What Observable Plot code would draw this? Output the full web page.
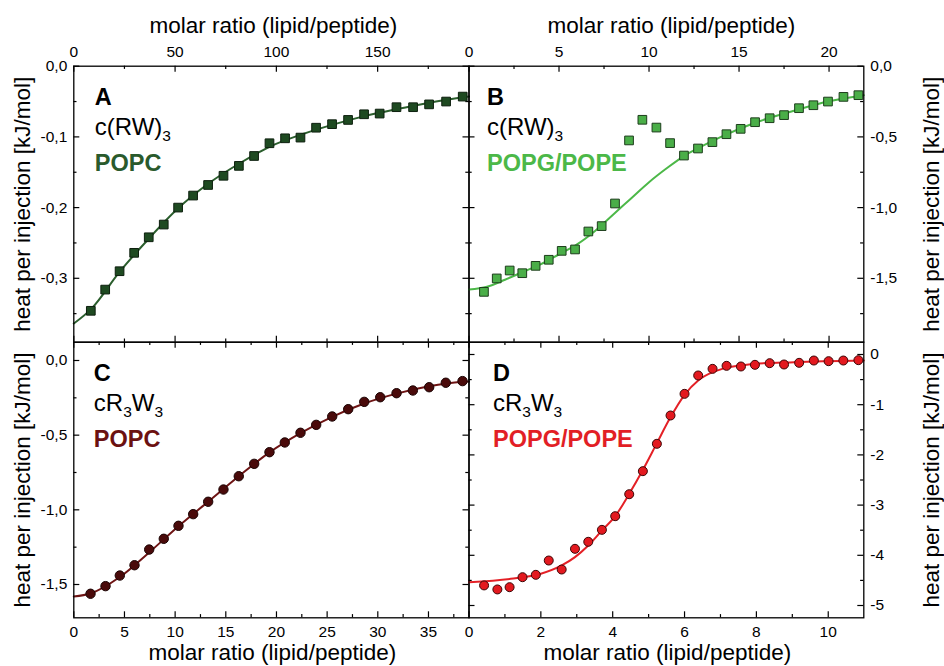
<!DOCTYPE html>
<html><head><meta charset="utf-8">
<script src="https://cdn.jsdelivr.net/npm/d3@7"></script>
<script src="https://cdn.jsdelivr.net/npm/@observablehq/plot@0.6"></script>
<style>
html,body{margin:0;padding:0;background:#fff;}
#chart{position:relative;width:944px;height:666px;overflow:hidden;background:#fff;}
#chart svg{position:absolute;left:0;top:0;}
</style></head><body><div id="chart"></div>
<script>
// ---------- Data ----------
// Panel A: c(RW)3 / POPC
const aX = [8.4, 15.5, 22.6, 29.8, 37.0, 44.4, 51.5, 58.9, 66.3, 73.9, 81.5, 89.0, 96.6, 104.3, 111.9, 119.6, 127.5, 135.4, 143.3, 151.0, 159.3, 167.5, 175.4, 183.8, 192.0];
const aY = [-0.346, -0.316, -0.290, -0.264, -0.242, -0.224, -0.200, -0.183, -0.168, -0.155, -0.141, -0.127, -0.109, -0.102, -0.101, -0.087, -0.082, -0.076, -0.068, -0.067, -0.058, -0.058, -0.054, -0.050, -0.043];
const aFitX = [0, 8.4, 22.6, 37, 51.5, 66, 81.5, 96.6, 112, 127.5, 143, 159, 175, 195.1];
const aFitY = [-0.364, -0.344, -0.291, -0.244, -0.201, -0.167, -0.138, -0.114, -0.097, -0.083, -0.071, -0.061, -0.052, -0.043];
// Panel B: c(RW)3 / POPG/POPE
const bX = [0.83, 1.54, 2.26, 2.96, 3.70, 4.43, 5.15, 5.89, 6.63, 7.37, 8.11, 8.89, 9.63, 10.41, 11.17, 11.94, 12.72, 13.52, 14.30, 15.09, 15.89, 16.70, 17.50, 18.33, 19.13, 19.94, 20.80, 21.63];
const bY = [-1.596, -1.501, -1.445, -1.464, -1.412, -1.369, -1.306, -1.296, -1.169, -1.131, -0.971, -0.525, -0.379, -0.434, -0.544, -0.632, -0.582, -0.537, -0.481, -0.443, -0.396, -0.368, -0.346, -0.297, -0.276, -0.250, -0.217, -0.205];
const bFitX = [0, 1, 2, 3, 4, 5, 6, 7, 8, 9, 10, 11, 12, 13, 14, 16, 18, 20, 21.93];
const bFitY = [-1.58, -1.56, -1.51, -1.455, -1.40, -1.33, -1.26, -1.165, -1.05, -0.935, -0.82, -0.72, -0.63, -0.562, -0.50, -0.395, -0.317, -0.248, -0.205];
// Panel C: cR3W3 / POPC
const cX = [1.65, 3.13, 4.54, 5.99, 7.44, 8.88, 10.33, 11.78, 13.26, 14.77, 16.28, 17.80, 19.31, 20.82, 22.37, 23.92, 25.50, 27.08, 28.66, 30.24, 31.85, 33.46, 35.07, 36.71, 38.36];
const cY = [-1.562, -1.511, -1.440, -1.371, -1.266, -1.194, -1.107, -1.029, -0.946, -0.864, -0.775, -0.692, -0.614, -0.549, -0.484, -0.431, -0.375, -0.326, -0.277, -0.246, -0.219, -0.201, -0.179, -0.149, -0.138];
const cFitX = [0, 1.65, 4.54, 7.44, 10.33, 13.26, 16.28, 19.31, 22.37, 25.5, 28.66, 31.85, 35.07, 38.36, 39];
const cFitY = [-1.58, -1.56, -1.45, -1.285, -1.11, -0.945, -0.775, -0.615, -0.486, -0.377, -0.288, -0.222, -0.173, -0.143, -0.140];
// Panel D: cR3W3 / POPG/POPE
const dX = [0.42, 0.79, 1.13, 1.49, 1.86, 2.22, 2.58, 2.95, 3.32, 3.70, 4.07, 4.46, 4.84, 5.23, 5.61, 6.00, 6.38, 6.78, 7.17, 7.57, 7.96, 8.37, 8.77, 9.19, 9.60, 10.01, 10.42, 10.84];
const dY = [-4.60, -4.68, -4.635, -4.436, -4.389, -4.104, -4.283, -3.871, -3.731, -3.493, -3.221, -2.783, -2.324, -1.779, -1.215, -0.784, -0.418, -0.286, -0.226, -0.239, -0.206, -0.173, -0.199, -0.166, -0.120, -0.133, -0.120, -0.113];
const dFitX = [0, 1.16, 2.0, 2.58, 2.95, 3.32, 3.70, 4.07, 4.46, 4.83, 5.22, 5.60, 6.0, 6.38, 6.78, 7.17, 7.57, 7.96, 9.05, 10.99];
const dFitY = [-4.535, -4.469, -4.369, -4.203, -4.037, -3.805, -3.506, -3.221, -2.776, -2.311, -1.780, -1.262, -0.803, -0.518, -0.352, -0.266, -0.219, -0.186, -0.153, -0.120];

// Tick values
const aXTicks = [0, 50, 100, 150], aXMinor = [25, 75, 125, 175];
const aYTicks = [0, -0.1, -0.2, -0.3], aYMinor = [-0.05, -0.15, -0.25, -0.35];
const bXTicks = [0, 5, 10, 15, 20], bXMinor = [2.5, 7.5, 12.5, 17.5];
const bYTicks = [0, -0.5, -1.0, -1.5], bYMinor = [-0.25, -0.75, -1.25, -1.75];
const cXTicks = [0, 5, 10, 15, 20, 25, 30, 35], cXMinor = [2.5, 7.5, 12.5, 17.5, 22.5, 27.5, 32.5, 37.5];
const cYTicks = [0, -0.5, -1.0, -1.5], cYMinor = [-0.25, -0.75, -1.25];
const dXTicks = [0, 2, 4, 6, 8, 10], dXMinor = [1, 3, 5, 7, 9];
const dYTicks = [0, -1, -2, -3, -4, -5], dYMinor = [-0.5, -1.5, -2.5, -3.5, -4.5];

const xTitle = "molar ratio (lipid/peptide)";
const yTitle = "heat per injection [kJ/mol]";

// ---------- Layout ----------
const W = 944, H = 666;
const FONT = "'Liberation Sans', Arial, Helvetica, sans-serif";
const X0 = 73.3, XM = 468.5, X1 = 863.3, Y0 = 65.7, YM = 341.7, Y1 = 617.3;
const TICK_FS = 15.5, TITLE_FS = 22.5, PEP_FS = 24, LIP_FS = 23.5, SUB_FS = 15.5;

const ctx = document.createElement("canvas").getContext("2d");
function tw(s, size, weight) { ctx.font = `${weight || "normal"} ${size}px ${FONT}`; return ctx.measureText(s).width; }

const comma1 = d => d3.format(".1f")(d).replace(".", ",").replace("\u2212", "-");
const intFmt = d => String(d).replace("\u2212", "-");

function toRows(xs, ys) { return xs.map((x, i) => ({x, y: ys[i]})); }

function panel(p) {
  const fw = p.x1 - p.x0, fh = p.y1 - p.y0;
  const MAJ = 6, MIN = 3.2, SW = 1.2;
  const marks = [];
  // inward ticks on all four sides
  for (const [vals, len] of [[p.xTicks, MAJ], [p.xMinor, MIN]]) {
    marks.push(Plot.tickX(vals, {x: d => d, insetBottom: fh - len, stroke: "#000", strokeWidth: SW}));
    marks.push(Plot.tickX(vals, {x: d => d, insetTop: fh - len, stroke: "#000", strokeWidth: SW}));
  }
  for (const [vals, len] of [[p.yTicks, MAJ], [p.yMinor, MIN]]) {
    marks.push(Plot.tickY(vals, {y: d => d, insetRight: fw - len, stroke: "#000", strokeWidth: SW}));
    marks.push(Plot.tickY(vals, {y: d => d, insetLeft: fw - len, stroke: "#000", strokeWidth: SW}));
  }
  // tick labels
  marks.push(Plot.axisX({ticks: p.xTicks, anchor: p.xSide, tickSize: 0, tickPadding: p.xSide === "top" ? 9.5 : 8, tickFormat: intFmt, fontSize: TICK_FS, label: null}));
  marks.push(Plot.axisY({ticks: p.yTicks, anchor: p.ySide, tickSize: 0, tickPadding: 6.5, tickFormat: p.yFmt, fontSize: TICK_FS, label: null}));
  // fit line + data
  marks.push(Plot.line(toRows(p.fitX, p.fitY), {x: "x", y: "y", curve: "monotone-x", stroke: p.lineColor, strokeWidth: 2}));
  marks.push(Plot.dot(toRows(p.xs, p.ys), {x: "x", y: "y", symbol: p.symbol, r: p.r, fill: p.fill, stroke: p.markStroke, strokeWidth: 1}));
  marks.push(Plot.frame({stroke: "#000", strokeWidth: 1.3}));
  // axis titles
  if (p.xSide === "top") {
    marks.push(Plot.text([xTitle], {text: d => d, frameAnchor: "top", dx: p.xTitleDx, dy: 33 - p.y0, lineAnchor: "bottom", textAnchor: "middle", fontSize: TITLE_FS}));
  } else {
    marks.push(Plot.text([xTitle], {text: d => d, frameAnchor: "bottom", dx: p.xTitleDx, dy: 659 - p.y1, lineAnchor: "bottom", textAnchor: "middle", fontSize: TITLE_FS}));
  }
  if (p.ySide === "left") {
    marks.push(Plot.text([yTitle], {text: d => d, frameAnchor: "left", dx: 29.6 - p.x0, rotate: -90, lineAnchor: "bottom", textAnchor: "middle", fontSize: TITLE_FS}));
  } else {
    marks.push(Plot.text([yTitle], {text: d => d, frameAnchor: "right", dx: 938.6 - p.x1, rotate: -90, lineAnchor: "bottom", textAnchor: "middle", fontSize: TITLE_FS}));
  }
  // panel annotations
  const lx = p.labelDx;
  marks.push(Plot.text([p.letter], {text: d => d, frameAnchor: "top-left", dx: lx, dy: 39, lineAnchor: "bottom", textAnchor: "start", fontSize: LIP_FS, fontWeight: "bold", fill: "#000"}));
  let cx = lx;
  for (const [s, sub] of p.peptide) {
    const fs = sub ? SUB_FS : PEP_FS;
    marks.push(Plot.text([s], {text: d => d, frameAnchor: "top-left", dx: cx, dy: sub ? 75 : 69, lineAnchor: "bottom", textAnchor: "start", fontSize: fs, fill: "#000"}));
    cx += tw(s, fs);
  }
  marks.push(Plot.text([p.lipid], {text: d => d, frameAnchor: "top-left", dx: lx, dy: 105, lineAnchor: "bottom", textAnchor: "start", fontSize: LIP_FS, fontWeight: "bold", fill: p.textColor}));

  return Plot.plot({
    width: W, height: H,
    marginLeft: p.x0, marginRight: W - p.x1, marginTop: p.y0, marginBottom: H - p.y1,
    x: {domain: p.xDomain},
    y: {domain: p.yDomain},
    style: {background: "transparent", fontFamily: FONT, fontSize: TICK_FS + "px", color: "#000", overflow: "visible"},
    marks
  });
}

const panels = [
  {x0: X0, x1: XM, y0: Y0, y1: YM, xDomain: [0, 195.1], yDomain: [-0.3904, 0],
   xTicks: aXTicks, xMinor: aXMinor, yTicks: aYTicks, yMinor: aYMinor, xSide: "top", ySide: "left", yFmt: comma1,
   xs: aX, ys: aY, fitX: aFitX, fitY: aFitY, symbol: "square", r: 4.9, fill: "#1e4a21", markStroke: "#0d1f0e", lineColor: "#2b5e2d",
   letter: "A", peptide: [["c(RW)", false], ["3", true]], lipid: "POPC", textColor: "#2a5a2c", labelDx: 21, xTitleDx: 2},
  {x0: XM, x1: X1, y0: Y0, y1: YM, xDomain: [0, 21.93], yDomain: [-1.952, 0],
   xTicks: bXTicks, xMinor: bXMinor, yTicks: bYTicks, yMinor: bYMinor, xSide: "top", ySide: "right", yFmt: comma1,
   xs: bX, ys: bY, fitX: bFitX, fitY: bFitY, symbol: "square", r: 4.9, fill: "#4aae48", markStroke: "#1d3d1c", lineColor: "#4cb848",
   letter: "B", peptide: [["c(RW)", false], ["3", true]], lipid: "POPG/POPE", textColor: "#4cb848", labelDx: 18, xTitleDx: 5},
  {x0: X0, x1: XM, y0: YM, y1: Y1, xDomain: [0, 39.0], yDomain: [-1.723, 0.1225],
   xTicks: cXTicks, xMinor: cXMinor, yTicks: cYTicks, yMinor: cYMinor, xSide: "bottom", ySide: "left", yFmt: comma1,
   xs: cX, ys: cY, fitX: cFitX, fitY: cFitY, symbol: "circle", r: 4.7, fill: "#4a0a0a", markStroke: "#1a0303", lineColor: "#6e1414",
   letter: "C", peptide: [["cR", false], ["3", true], ["W", false], ["3", true]], lipid: "POPC", textColor: "#6b1111", labelDx: 20, xTitleDx: 1},
  {x0: XM, x1: X1, y0: YM, y1: Y1, xDomain: [0, 10.99], yDomain: [-5.245, 0.245],
   xTicks: dXTicks, xMinor: dXMinor, yTicks: dYTicks, yMinor: dYMinor, xSide: "bottom", ySide: "right", yFmt: intFmt,
   xs: dX, ys: dY, fitX: dFitX, fitY: dFitY, symbol: "circle", r: 4.5, fill: "#e3191f", markStroke: "#3a0606", lineColor: "#e42026",
   letter: "D", peptide: [["cR", false], ["3", true], ["W", false], ["3", true]], lipid: "POPG/POPE", textColor: "#e21f26", labelDx: 24, xTitleDx: 1}
];

const root = document.getElementById("chart");
for (const p of panels) root.appendChild(panel(p));
</script></body></html>
